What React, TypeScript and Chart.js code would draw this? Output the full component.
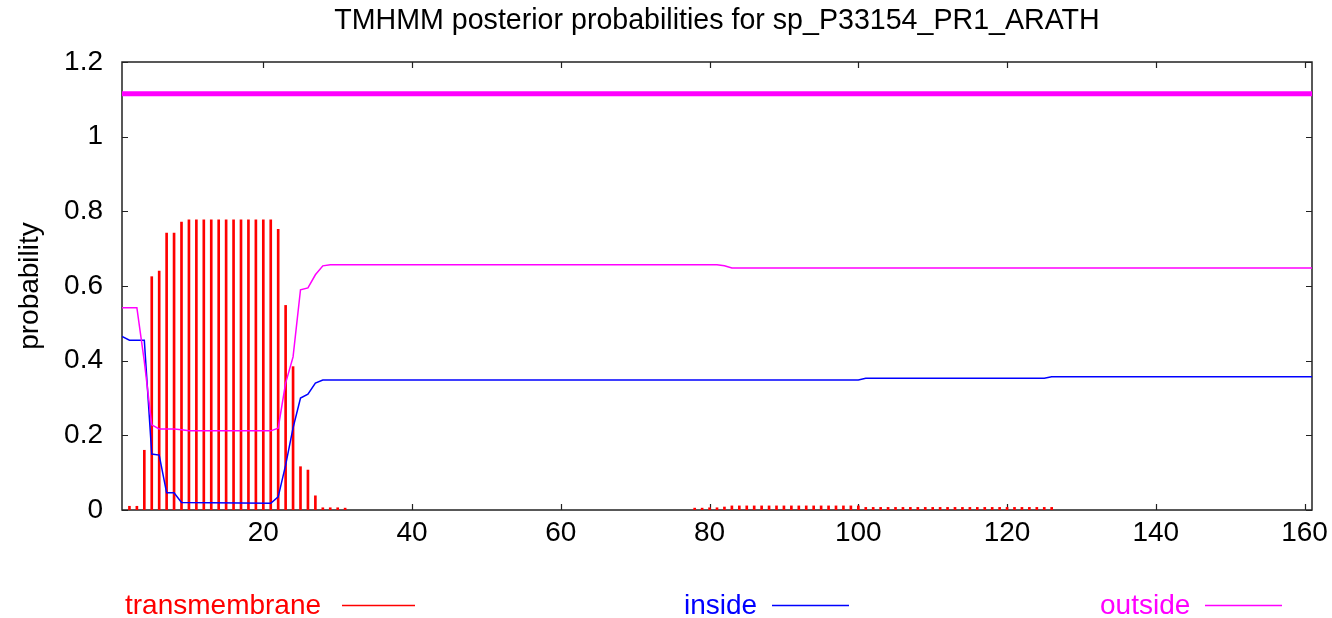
import { useEffect, useRef } from "react";
import { Chart, registerables } from "chart.js";

Chart.register(...registerables);

const TITLE = "TMHMM posterior probabilities for sp_P33154_PR1_ARATH";
const Y_LABEL = "probability";

const xTickValues = [20, 40, 60, 80, 100, 120, 140, 160];
const yTickValues = [0, 0.2, 0.4, 0.6, 0.8, 1, 1.2];
const yTickLabels = ["0", "0.2", "0.4", "0.6", "0.8", "1", "1.2"];

// transmembrane posterior (impulses)
const tmPositions = [
  2, 3, 4, 5, 6, 7, 8, 9, 10, 11, 12, 13, 14, 15, 16, 17, 18, 19, 20, 21, 22, 23, 24, 25, 26, 27, 28, 29, 30, 31,
  78, 79, 80, 81, 82, 83, 84, 85, 86, 87, 88, 89, 90, 91, 92, 93, 94, 95, 96, 97, 98, 99, 100,
  101, 102, 103, 104, 105, 106, 107, 108, 109, 110, 111, 112, 113, 114, 115, 116, 117, 118, 119, 120,
  121, 122, 123, 124, 125, 126,
];
const tmValues = [
  0.01, 0.01, 0.16, 0.625, 0.64, 0.742, 0.742, 0.771, 0.777, 0.777, 0.777, 0.777, 0.777, 0.777, 0.777, 0.777,
  0.777, 0.777, 0.777, 0.777, 0.752, 0.548, 0.384, 0.116, 0.107, 0.038, 0.006, 0.006, 0.006, 0.005,
  0.005, 0.005, 0.006, 0.006, 0.008, 0.011, 0.011, 0.011, 0.011, 0.011, 0.011, 0.011, 0.011, 0.011, 0.011,
  0.011, 0.011, 0.011, 0.011, 0.011, 0.011, 0.011, 0.011,
  0.007, 0.007, 0.007, 0.007, 0.007, 0.007, 0.007, 0.007, 0.007, 0.007, 0.007, 0.007, 0.007, 0.007, 0.007,
  0.007, 0.007, 0.007, 0.007, 0.007, 0.007, 0.007, 0.007, 0.007, 0.007, 0.007,
];

// inside posterior (points where the curve changes)
const insidePositions = [1, 2, 4, 5, 6, 7, 8, 9, 21, 22, 23, 24, 25, 26, 27, 28, 100, 101, 125, 126, 161];
const insideValues = [0.465, 0.455, 0.455, 0.15, 0.147, 0.046, 0.046, 0.02, 0.018, 0.035, 0.12, 0.22, 0.3, 0.31, 0.34, 0.348, 0.348, 0.353, 0.353, 0.357, 0.357];

// outside posterior
const outsidePositions = [1, 3, 4, 5, 6, 8, 9, 10, 21, 22, 23, 24, 25, 26, 27, 28, 29, 81, 82, 83, 161];
const outsideValues = [0.542, 0.542, 0.398, 0.228, 0.217, 0.217, 0.215, 0.212, 0.212, 0.219, 0.34, 0.41, 0.59, 0.595, 0.63, 0.654, 0.657, 0.657, 0.654, 0.648, 0.648];

// predicted topology line (outside over the whole sequence)
const topologyPositions = [1, 161];
const topologyValues = [1.115, 1.115];

const legendItems = [
  { label: "transmembrane", color: "#ff0000", textX: 125, lineX1: 342, lineX2: 415 },
  { label: "inside", color: "#0000ff", textX: 684, lineX1: 772, lineX2: 849 },
  { label: "outside", color: "#ff00ff", textX: 1100, lineX1: 1205, lineX2: 1282 },
];

const FONT = '"Liberation Sans", Arial, sans-serif';

const pairs = (xs: number[], ys: number[]) => xs.map((x, i) => ({ x, y: ys[i] }));

const framePlugin = {
  id: "frame",
  beforeDatasetsDraw(chart: any) {
    const { ctx, chartArea: a, scales } = chart;
    const x = scales.x;
    const y = scales.y;
    ctx.save();
    ctx.strokeStyle = "#222";
    ctx.lineWidth = 1.5;
    ctx.strokeRect(a.left, a.top, a.right - a.left, a.bottom - a.top);
    ctx.beginPath();
    const tl = 6;
    xTickValues.forEach((v) => {
      const px = Math.round(x.getPixelForValue(v)) + 0.5;
      ctx.moveTo(px, a.bottom);
      ctx.lineTo(px, a.bottom - tl);
      ctx.moveTo(px, a.top);
      ctx.lineTo(px, a.top + tl);
    });
    yTickValues.forEach((v) => {
      const py = Math.round(y.getPixelForValue(v)) + 0.5;
      ctx.moveTo(a.left, py);
      ctx.lineTo(a.left + tl, py);
      ctx.moveTo(a.right, py);
      ctx.lineTo(a.right - tl, py);
    });
    ctx.lineWidth = 1.2;
    ctx.stroke();
    ctx.restore();
  },
  afterDraw(chart: any) {
    const { ctx, chartArea: a } = chart;
    ctx.save();
    ctx.font = `28.6px ${FONT}`;
    ctx.fillStyle = "#000";
    ctx.textAlign = "center";
    ctx.textBaseline = "middle";
    ctx.fillText(TITLE, (a.left + a.right) / 2, 21);

    ctx.font = `28px ${FONT}`;
    ctx.save();
    ctx.translate(30, (a.top + a.bottom) / 2);
    ctx.rotate(-Math.PI / 2);
    ctx.fillText(Y_LABEL, 0, 0);
    ctx.restore();

    ctx.textAlign = "left";
    legendItems.forEach((it) => {
      ctx.fillStyle = it.color;
      ctx.fillText(it.label, it.textX, 606);
      ctx.strokeStyle = it.color;
      ctx.lineWidth = 1.5;
      ctx.beginPath();
      ctx.moveTo(it.lineX1, 605.5);
      ctx.lineTo(it.lineX2, 605.5);
      ctx.stroke();
    });
    ctx.restore();
  },
};

export default function App() {
  const ref = useRef<HTMLCanvasElement | null>(null);

  useEffect(() => {
    document.body.style.margin = "0";
    const canvas = ref.current;
    if (!canvas) return;
    const chart = new Chart(canvas, {
      type: "line",
      data: {
        datasets: [
          {
            type: "line",
            label: "topology",
            data: pairs(topologyPositions, topologyValues),
            borderColor: "#ff00ff",
            borderWidth: 5,
            pointRadius: 0,
            tension: 0,
            order: 0,
          },
          {
            type: "line",
            label: "outside",
            data: pairs(outsidePositions, outsideValues),
            borderColor: "#ff00ff",
            borderWidth: 1.5,
            pointRadius: 0,
            tension: 0,
            order: 1,
          },
          {
            type: "line",
            label: "inside",
            data: pairs(insidePositions, insideValues),
            borderColor: "#0000ff",
            borderWidth: 1.5,
            pointRadius: 0,
            tension: 0,
            order: 2,
          },
          {
            type: "bar",
            label: "transmembrane",
            data: pairs(tmPositions, tmValues),
            backgroundColor: "#ff0000",
            borderWidth: 0,
            barThickness: 2,
            order: 3,
          } as any,
        ],
      },
      options: {
        responsive: false,
        animation: false,
        layout: { padding: { left: 0, right: 20, top: 62, bottom: 0 } },
        plugins: {
          legend: { display: false },
          tooltip: { enabled: false },
          title: { display: false },
        },
        scales: {
          x: {
            type: "linear",
            min: 1,
            max: 161,
            offset: false,
            grid: { display: false, drawTicks: false },
            border: { display: false },
            afterBuildTicks: (s: any) => {
              s.ticks = xTickValues.map((v) => ({ value: v }));
            },
            afterFit: (s: any) => {
              s.height = 108;
              s.paddingLeft = 0;
              s.paddingRight = 0;
            },
            ticks: {
              color: "#000",
              font: { family: FONT, size: 28 },
              padding: 6,
              maxRotation: 0,
              autoSkip: false,
              callback: (v: any) => String(v),
            },
          },
          y: {
            type: "linear",
            min: 0,
            max: 1.2,
            grid: { display: false, drawTicks: false },
            border: { display: false },
            afterBuildTicks: (s: any) => {
              s.ticks = yTickValues.map((v) => ({ value: v }));
            },
            afterFit: (s: any) => {
              s.width = 122;
              s.paddingTop = 0;
              s.paddingBottom = 0;
            },
            ticks: {
              color: "#000",
              font: { family: FONT, size: 28 },
              padding: 19,
              autoSkip: false,
              callback: (_v: any, i: number) => yTickLabels[i],
            },
          },
        },
      },
      plugins: [framePlugin],
    });
    return () => chart.destroy();
  }, []);

  return (
    <div style={{ width: 1332, height: 618, background: "#fff" }}>
      <canvas ref={ref} width={1332} height={618} style={{ display: "block" }} />
    </div>
  );
}
